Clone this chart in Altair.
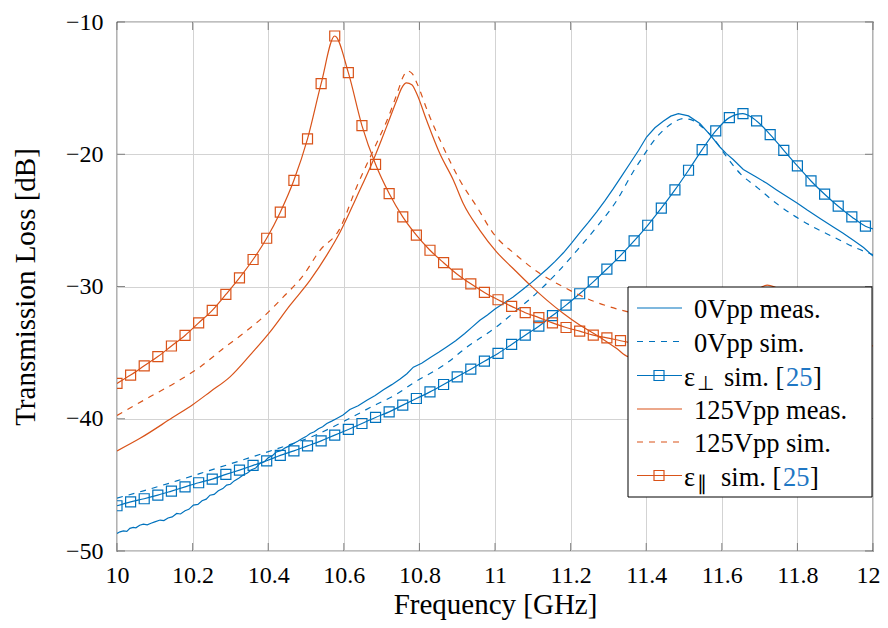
import altair as alt
import pandas as pd

# ---------------- data ----------------
F_STEP = 0.036  # marker spacing of the simulated sweeps [GHz]

EPS_PERP_DB = [-46.58, -46.28, -46.05, -45.78, -45.47, -45.15, -44.84, -44.56, -44.21, -43.88,
               -43.53, -43.18, -42.77, -42.43, -42.05, -41.67, -41.24, -40.81, -40.36, -39.90,
               -39.48, -38.97, -38.47, -37.97, -37.41, -36.83, -36.25, -35.65, -35.06, -34.38,
               -33.68, -33.00, -32.20, -31.41, -30.55, -29.65, -28.68, -27.66, -26.55, -25.37,
               -24.08, -22.70, -21.21, -19.65, -18.24, -17.23, -16.93, -17.48, -18.51, -19.70,
               -20.88, -22.02, -23.02, -23.93, -24.74, -25.44]
EPS_PERP_END = (12.0, -25.65)

EPS_PAR_DB = [-37.33, -36.70, -36.00, -35.30, -34.50, -33.70, -32.75, -31.80, -30.60, -29.35,
              -27.96, -26.35, -24.38, -21.97, -18.84, -14.66, -11.06, -13.83, -17.83, -20.76,
              -22.97, -24.74, -26.12, -27.26, -28.20, -29.07, -29.80, -30.45, -31.00, -31.50,
              -31.98, -32.35, -32.75, -33.10, -33.38, -33.68, -33.88, -34.10, -34.30, -34.50]

MEAS0_F = [10.000, 10.008, 10.017, 10.026, 10.034, 10.043, 10.050, 10.060, 10.070, 10.080,
           10.090, 10.100, 10.114, 10.124, 10.135, 10.146, 10.158, 10.168, 10.180, 10.190,
           10.202, 10.214, 10.225, 10.236, 10.246, 10.257, 10.268, 10.280, 10.290, 10.300,
           10.310, 10.322, 10.334, 10.345, 10.356, 10.367, 10.378, 10.390, 10.400, 10.411,
           10.422, 10.434, 10.445, 10.456, 10.467, 10.478, 10.490, 10.500, 10.511, 10.522,
           10.533, 10.544, 10.555, 10.568, 10.580, 10.598, 10.616, 10.638, 10.661, 10.683,
           10.705, 10.727, 10.749, 10.767, 10.784, 10.806, 10.830, 10.851, 10.872, 10.896,
           10.920, 10.940, 10.960, 10.980, 11.000, 11.024, 11.048, 11.070, 11.093, 11.115,
           11.137, 11.159, 11.181, 11.203, 11.225, 11.247, 11.269, 11.291, 11.313, 11.335,
           11.357, 11.380, 11.401, 11.423, 11.445, 11.465, 11.485, 11.512, 11.542, 11.568,
           11.595, 11.612, 11.630, 11.657, 11.690, 11.719, 11.745, 11.772, 11.800, 11.825,
           11.860, 11.895, 11.920, 11.948, 11.975, 12.000]
MEAS0_DB = [-48.67, -48.55, -48.48, -48.52, -48.29, -48.22, -48.25, -48.05, -47.97, -48.02,
            -47.90, -47.80, -47.66, -47.70, -47.50, -47.42, -47.16, -47.20, -46.95, -46.85,
            -46.53, -46.48, -46.20, -46.08, -45.78, -45.72, -45.45, -45.28, -45.02, -44.95,
            -44.70, -44.50, -44.26, -44.10, -43.85, -43.72, -43.38, -43.25, -42.95, -42.80,
            -42.50, -42.42, -42.20, -42.05, -41.87, -41.70, -41.50, -41.35, -41.11, -40.98,
            -40.75, -40.60, -40.36, -40.18, -40.00, -39.72, -39.30, -39.02, -38.60, -38.25,
            -37.80, -37.42, -37.00, -36.60, -36.10, -35.80, -35.35, -34.98, -34.57, -34.10,
            -33.55, -33.05, -32.55, -32.15, -31.70, -31.25, -30.79, -30.30, -29.78, -29.25,
            -28.70, -28.10, -27.45, -26.70, -25.90, -25.15, -24.35, -23.50, -22.60, -21.65,
            -20.70, -19.70, -18.70, -18.00, -17.50, -17.12, -16.93, -17.10, -17.68, -18.50,
            -19.45, -19.95, -20.40, -21.15, -21.70, -22.20, -22.70, -23.20, -23.70, -24.20,
            -24.85, -25.50, -25.95, -26.50, -27.05, -27.70]

SIM0_F = [10.000, 10.070, 10.158, 10.246, 10.334, 10.420, 10.520, 10.600, 10.687, 10.730,
          10.784, 10.872, 10.925, 11.004, 11.057, 11.110, 11.163, 11.216, 11.269, 11.322,
          11.366, 11.384, 11.428, 11.472, 11.498, 11.520, 11.542, 11.586, 11.613, 11.650,
          11.692, 11.745, 11.789, 11.842, 11.895, 11.948, 12.000]
SIM0_DB = [-46.00, -45.45, -44.70, -43.90, -43.10, -42.30, -41.30, -40.20, -38.90, -38.30,
           -37.30, -35.80, -34.60, -33.05, -31.80, -30.50, -29.00, -27.30, -25.50, -23.50,
           -21.30, -20.50, -18.70, -17.60, -17.30, -17.40, -17.80, -19.10, -20.20, -21.50,
           -22.47, -23.73, -24.61, -25.50, -26.25, -27.00, -27.60]

MEAS125_F = [10.000, 10.061, 10.145, 10.202, 10.246, 10.299, 10.352, 10.405, 10.458, 10.511,
             10.555, 10.590, 10.634, 10.678, 10.713, 10.740, 10.753, 10.766, 10.780, 10.793,
             10.819, 10.854, 10.890, 10.916, 10.960, 11.004, 11.048, 11.093, 11.137, 11.181,
             11.225, 11.269, 11.322, 11.352, 11.450, 11.550, 11.620, 11.680, 11.720, 11.770,
             11.850, 11.950, 12.000]
MEAS125_DB = [-42.43, -41.48, -39.95, -38.90, -37.97, -36.83, -35.19, -33.43, -31.41, -29.52,
              -27.63, -25.90, -23.23, -20.45, -17.93, -15.92, -15.00, -14.61, -14.75, -15.42,
              -17.43, -19.95, -21.97, -23.73, -25.75, -27.38, -28.64, -29.90, -31.03, -32.04,
              -32.93, -33.68, -34.69, -35.30, -35.50, -34.50, -32.50, -30.60, -29.90, -30.50,
              -32.50, -34.00, -34.50]

SIM125_F = [10.000, 10.087, 10.158, 10.220, 10.281, 10.334, 10.387, 10.440, 10.493, 10.537,
            10.588, 10.634, 10.678, 10.718, 10.744, 10.756, 10.768, 10.781, 10.794, 10.824,
            10.863, 10.907, 10.952, 10.996, 11.057, 11.119, 11.181, 11.243, 11.304, 11.353,
            11.420]
SIM125_DB = [-39.75, -38.34, -37.21, -36.08, -34.69, -33.55, -32.30, -30.79, -29.15, -27.26,
             -25.70, -22.47, -19.70, -17.18, -15.16, -14.20, -13.70, -13.90, -14.66, -16.93,
             -19.45, -21.97, -23.98, -26.00, -27.64, -29.02, -30.03, -30.91, -31.54, -31.92,
             -32.30]

X_TICKS = [10, 10.2, 10.4, 10.6, 10.8, 11, 11.2, 11.4, 11.6, 11.8, 12]
Y_TICKS = [-50, -40, -30, -20, -10]

LEGEND_LABELS = ["0Vpp meas.", "0Vpp sim.", "sim. [", "125Vpp meas.", "125Vpp sim.", "sim. ["]
REF_NUMBER = "25"

# ---------------- styling ----------------
BLUE = "#0072BD"
ORANGE = "#D95319"
LINK = "#1f77c4"
FONT = "Liberation Serif"
W, H = 756, 529

eps_perp_f = [round(10 + F_STEP * i, 3) for i in range(len(EPS_PERP_DB))]
eps_par_f = [round(10 + F_STEP * i, 3) for i in range(len(EPS_PAR_DB))]

df_meas0 = pd.DataFrame({"f": MEAS0_F, "db": MEAS0_DB})
df_sim0 = pd.DataFrame({"f": SIM0_F, "db": SIM0_DB})
df_perp_pts = pd.DataFrame({"f": eps_perp_f, "db": EPS_PERP_DB})
df_perp_line = pd.DataFrame({"f": eps_perp_f + [EPS_PERP_END[0]], "db": EPS_PERP_DB + [EPS_PERP_END[1]]})
df_meas125 = pd.DataFrame({"f": MEAS125_F, "db": MEAS125_DB})
df_sim125 = pd.DataFrame({"f": SIM125_F, "db": SIM125_DB})
df_par = pd.DataFrame({"f": eps_par_f, "db": EPS_PAR_DB})
df_xt = pd.DataFrame({"f": X_TICKS})
df_yt = pd.DataFrame({"db": Y_TICKS})

XSCALE = alt.Scale(domain=[10, 12], nice=False, zero=False)
YSCALE = alt.Scale(domain=[-50, -10], nice=False, zero=False)


def X():
    return alt.X("f:Q", scale=XSCALE,
                 axis=alt.Axis(values=X_TICKS, format="~g", title="Frequency [GHz]",
                               titleX=W / 2, titleY=62, titleAlign="center",
                               titleBaseline="alphabetic",
                               labelOffset={"condition": {"test": "datum.value >= 12", "value": -5},
                                            "value": 0}))


def Y():
    return alt.Y("db:Q", scale=YSCALE,
                 axis=alt.Axis(values=Y_TICKS, format="d", title="Transmission Loss [dB]",
                               titleX=-92, titleY=H / 2, titleAngle=-90, titleAlign="center",
                               titleBaseline="middle"))


def line(df, color, dash=None, interp="monotone"):
    kw = dict(color=color, strokeWidth=1.2, clip=True, interpolate=interp)
    if dash:
        kw["strokeDash"] = dash
    return alt.Chart(df).mark_line(**kw).encode(x=X(), y=Y())


def pts(df, color):
    return alt.Chart(df).mark_point(shape="square", size=100, filled=False, color=color,
                                    strokeWidth=1.2, opacity=1, clip=True).encode(x=X(), y=Y())


TICK_C = "#555555"
layers = [
    # inward tick marks on all four sides
    alt.Chart(df_xt).mark_tick(color=TICK_C, thickness=1, size=8, yOffset=-4).encode(
        x=X(), y=alt.value(H)),
    alt.Chart(df_xt).mark_tick(color=TICK_C, thickness=1, size=8, yOffset=4).encode(
        x=X(), y=alt.value(0)),
    alt.Chart(df_yt).mark_tick(color=TICK_C, thickness=1, size=8, xOffset=4).encode(
        y=Y(), x=alt.value(0)),
    alt.Chart(df_yt).mark_tick(color=TICK_C, thickness=1, size=8, xOffset=-4).encode(
        y=Y(), x=alt.value(W)),
    line(df_meas0, BLUE, interp="linear"),
    line(df_sim0, BLUE, dash=[6, 6]),
    line(df_perp_line, BLUE),
    pts(df_perp_pts, BLUE),
    line(df_meas125, ORANGE),
    line(df_sim125, ORANGE, dash=[6, 6]),
    line(df_par, ORANGE),
    pts(df_par, ORANGE),
]

# ---------------- legend (box inside the plot) ----------------
one = pd.DataFrame({"a": [0]})
OX, OY = 117, 22  # plot origin on the page
box = (628, 287, 872, 497)
layers.append(alt.Chart(one).mark_rect(fill="white", stroke="black", strokeWidth=1).encode(
    x=alt.value(box[0] - OX), x2=alt.value(box[2] - OX),
    y=alt.value(box[1] - OY), y2=alt.value(box[3] - OY)))

row_y = [308, 341.5, 375.5, 409, 442, 475.5]
row_color = [BLUE, BLUE, BLUE, ORANGE, ORANGE, ORANGE]
row_dash = [None, [6, 6], None, None, [6, 6], None]
row_mark = [False, False, True, False, False, True]
row_sub = [None, None, "⊥", None, None, "∥"]
FS = 26.5

for i in range(6):
    y = row_y[i] - OY
    kw = dict(color=row_color[i], strokeWidth=1.2)
    if row_dash[i]:
        kw["strokeDash"] = row_dash[i]
    layers.append(alt.Chart(one).mark_rule(**kw).encode(
        x=alt.value(637 - OX), x2=alt.value(682 - OX), y=alt.value(y)))
    if row_mark[i]:
        layers.append(alt.Chart(one).mark_point(shape="square", size=100, filled=False,
                                                color=row_color[i], strokeWidth=1.2, opacity=1).encode(
            x=alt.value(659 - OX), y=alt.value(y)))
    tb = y + 10
    if row_sub[i] is None:
        layers.append(alt.Chart(one).mark_text(align="left", baseline="alphabetic", font=FONT,
                                               fontSize=FS, color="black").encode(
            x=alt.value(694 - OX), y=alt.value(tb), text=alt.value(LEGEND_LABELS[i])))
    else:
        layers.append(alt.Chart(one).mark_text(align="left", baseline="alphabetic", font=FONT,
                                               fontSize=FS, color="black").encode(
            x=alt.value(684 - OX), y=alt.value(tb), text=alt.value("ε")))
        layers.append(alt.Chart(one).mark_text(align="left", baseline="alphabetic", font=FONT,
                                               fontSize=20, color="black").encode(
            x=alt.value(697 - OX), y=alt.value(tb + 4), text=alt.value(row_sub[i])))
        start = 724 if i == 2 else 721
        layers.append(alt.Chart(one).mark_text(align="left", baseline="alphabetic", font=FONT,
                                               fontSize=FS, color="black").encode(
            x=alt.value(start - OX), y=alt.value(tb), text=alt.value(LEGEND_LABELS[i])))
        layers.append(alt.Chart(one).mark_text(align="left", baseline="alphabetic", font=FONT,
                                               fontSize=FS, color=LINK).encode(
            x=alt.value(start + 62 - OX), y=alt.value(tb), text=alt.value(REF_NUMBER)))
        layers.append(alt.Chart(one).mark_text(align="left", baseline="alphabetic", font=FONT,
                                               fontSize=FS, color="black").encode(
            x=alt.value(start + 89 - OX), y=alt.value(tb), text=alt.value("]")))

chart = alt.layer(*layers).properties(
    width=W, height=H,
    autosize=alt.AutoSizeParams(type="none"),
    padding={"left": 109, "top": 14, "right": 7, "bottom": 69},
).configure_view(
    stroke="black", strokeWidth=1.2
).configure_axis(
    grid=True, gridColor="#d3d3d3", gridWidth=1, domain=False, ticks=False,
    labelFont=FONT, labelFontSize=24, labelColor="black", labelPadding=12,
    titleFont=FONT, titleFontSize=29, titleColor="black", titleFontWeight="normal",
    labelFlush=False, labelOverlap=False,
).configure_axisY(labelPadding=14)

chart.save("out.html", embed_options={"renderer": "svg", "actions": False})
